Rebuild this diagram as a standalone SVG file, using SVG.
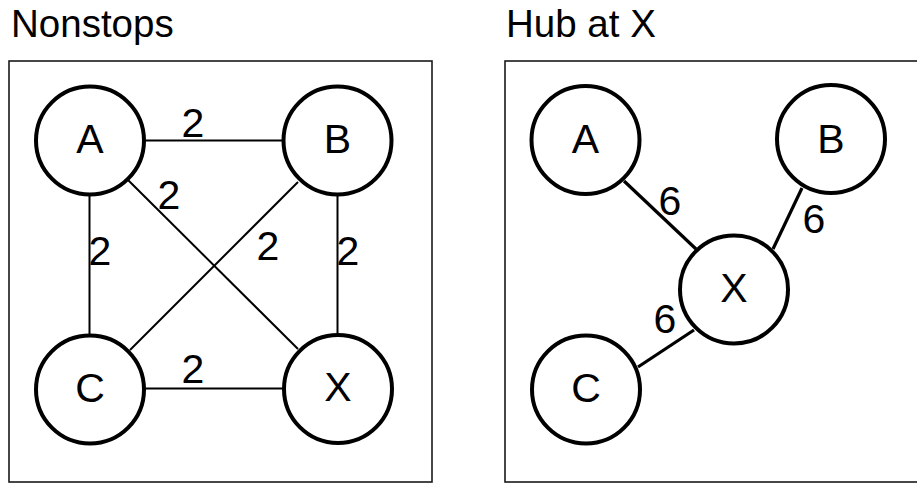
<svg xmlns="http://www.w3.org/2000/svg" width="917" height="483" viewBox="0 0 917 483">
<style>
text{font-family:"Liberation Sans",Arial,sans-serif;fill:#000}
.title{font-size:38.5px}
.lbl{font-size:41px;text-anchor:middle}
.w{font-size:41px;text-anchor:middle}
.frame{fill:none;stroke:#1a1a1a;stroke-width:1.6}
.node{fill:#fff;stroke:#000;stroke-width:4}
.thin{stroke:#000;stroke-width:2;fill:none}
.thick{stroke:#000;stroke-width:3.2;fill:none}
</style>
<rect width="917" height="483" fill="#fff"/>
<text class="title" x="11" y="37">Nonstops</text>
<text class="title" x="506" y="37">Hub at X</text>
<rect class="frame" x="9" y="61" width="423" height="421"/>
<rect class="frame" x="505" y="61" width="430" height="421"/>
<g id="connectors">
<line class="thin" x1="144" y1="140.5" x2="283" y2="140.5"/>
<line class="thin" x1="89.5" y1="195" x2="89.5" y2="335"/>
<line class="thin" x1="337.5" y1="195" x2="337.5" y2="335"/>
<line class="thin" x1="144" y1="388.5" x2="283" y2="388.5"/>
<line class="thin" x1="128" y1="180" x2="298" y2="349"/>
<line class="thin" x1="298" y1="182" x2="130" y2="350"/>
<line class="thick" x1="624" y1="181" x2="696" y2="249"/>
<line class="thick" x1="802" y1="188" x2="773" y2="249"/>
<line class="thick" x1="638" y1="367" x2="694" y2="330"/>
<text class="w" x="193" y="136.5">2</text>
<text class="w" x="169" y="209">2</text>
<text class="w" x="100" y="265">2</text>
<text class="w" x="268" y="260">2</text>
<text class="w" x="348" y="265">2</text>
<text class="w" x="193" y="383">2</text>
<text class="w" x="670" y="215">6</text>
<text class="w" x="814" y="233">6</text>
<text class="w" x="665" y="333">6</text>
</g>
<g id="nA1"><circle class="node" cx="90" cy="140.5" r="54"/><text class="lbl" x="90" y="152.7">A</text></g>
<g id="nB1"><circle class="node" cx="337.5" cy="140.5" r="54"/><text class="lbl" x="337.5" y="152.7">B</text></g>
<g id="nC1"><circle class="node" cx="90" cy="389.5" r="54"/><text class="lbl" x="90" y="402">C</text></g>
<g id="nX1"><circle class="node" cx="338" cy="389" r="54"/><text class="lbl" x="338" y="401">X</text></g>
<g id="nA2"><circle class="node" cx="585.5" cy="140" r="54"/><text class="lbl" x="585.5" y="152.7">A</text></g>
<g id="nB2"><circle class="node" cx="831" cy="139" r="54"/><text class="lbl" x="831" y="152.7">B</text></g>
<g id="nX2"><circle class="node" cx="734" cy="289.5" r="54"/><text class="lbl" x="734" y="302">X</text></g>
<g id="nC2"><circle class="node" cx="586" cy="389.5" r="54"/><text class="lbl" x="586" y="402">C</text></g>
</svg>
